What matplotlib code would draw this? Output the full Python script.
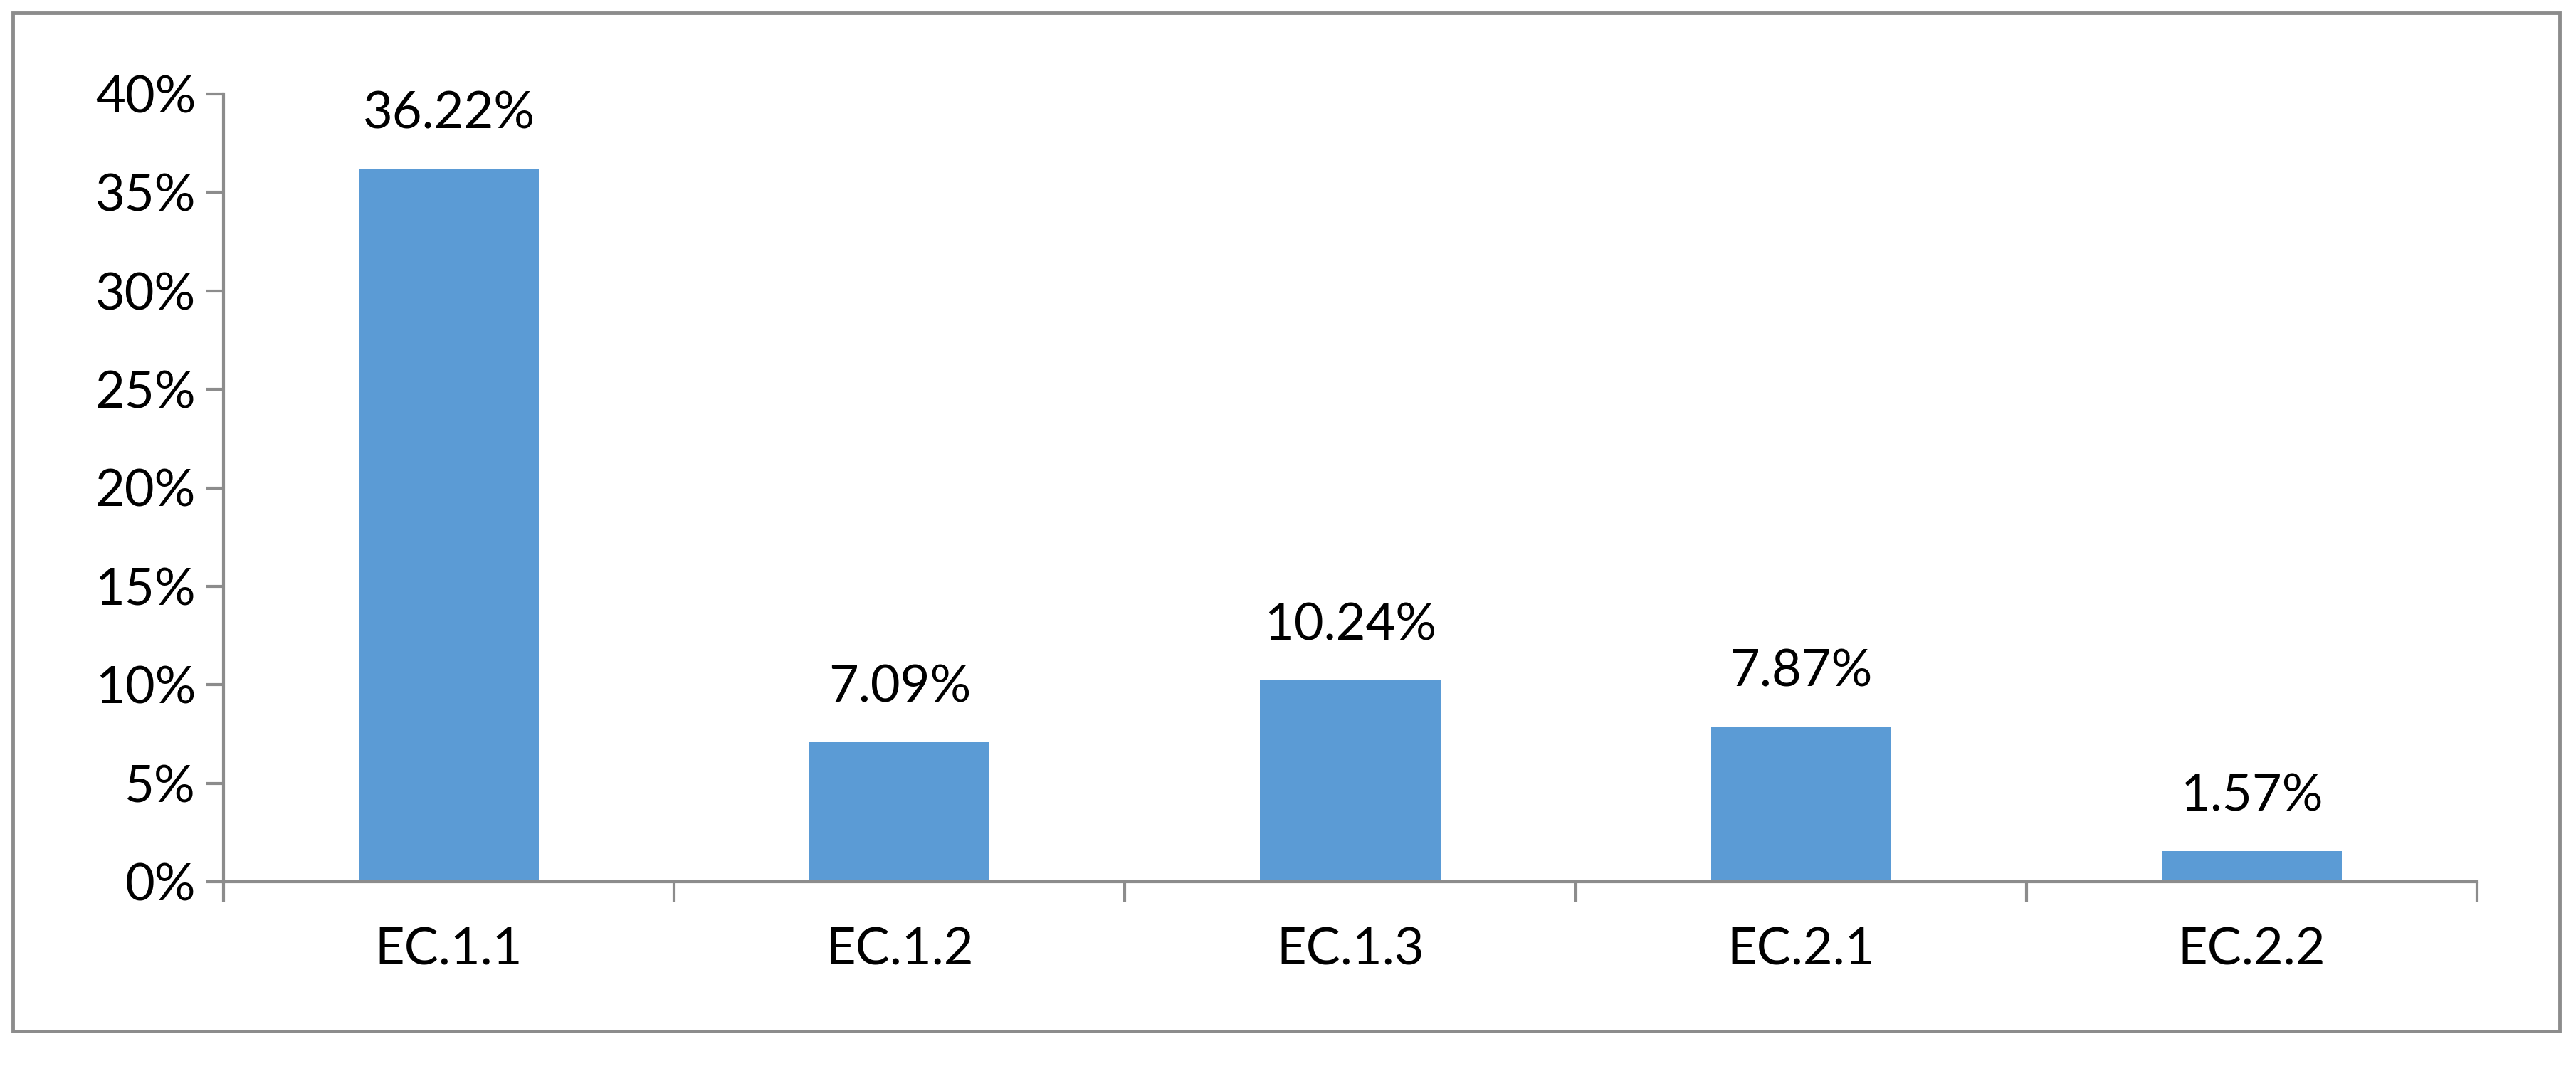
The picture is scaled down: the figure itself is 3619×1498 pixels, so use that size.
import matplotlib
matplotlib.use("Agg")
import matplotlib.pyplot as plt
from matplotlib.patches import Rectangle
from matplotlib.ticker import FuncFormatter, MultipleLocator
import numpy as np

categorias = ["EC.1.1", "EC.1.2", "EC.1.3", "EC.2.1", "EC.2.2"]
valores = [36.22, 7.09, 10.24, 7.87, 1.57]

plt.rcParams['font.family'] = ['Lato', 'DejaVu Sans']
gris = '#8c8c8c'
azul = '#5b9bd5'
tam = 52

W, H = 3619, 1498
fig = plt.figure(figsize=(W / 100, H / 100), dpi=100)

# ejes en pixeles de la figura
x0, x1 = 314, 3480
y_top, y_bot = 132, 1239
ax = fig.add_axes([x0 / W, 1 - y_bot / H, (x1 - x0) / W, (y_bot - y_top) / H])

x = np.arange(len(categorias))
ax.bar(x, valores, width=0.4, color=azul, zorder=2)

for xi, v in zip(x, valores):
    ax.annotate(f"{v:.2f}%", (xi, v), xytext=(0, 32), textcoords='offset points',
                ha='center', va='bottom', fontsize=tam)

ax.set_xlim(-0.5, len(categorias) - 0.5)
ax.set_ylim(0, 40)
ax.yaxis.set_major_locator(MultipleLocator(5))
ax.yaxis.set_major_formatter(FuncFormatter(lambda v, p: f"{v:.0f}%"))

ax.set_xticks(np.arange(len(categorias) + 1) - 0.5)
ax.set_xticklabels([])
ax.set_xticks(x, minor=True)
ax.set_xticklabels(categorias, minor=True)
ax.tick_params(axis='x', which='minor', length=0, pad=46, labelsize=tam)
ax.tick_params(axis='x', which='major', length=20, width=3, color=gris, direction='out')
ax.tick_params(axis='y', length=18, width=3, color=gris, direction='out', pad=10, labelsize=tam)

for lado in ['top', 'right']:
    ax.spines[lado].set_visible(False)
for lado in ['left', 'bottom']:
    ax.spines[lado].set_color(gris)
    ax.spines[lado].set_linewidth(3)

# marco exterior
fig.patches.append(Rectangle((18 / W, 1 - 1449 / H), (3596 - 18) / W, (1449 - 18) / H,
                             transform=fig.transFigure, fill=False, edgecolor=gris, linewidth=3.5))

fig.savefig("out.png", dpi=100)
